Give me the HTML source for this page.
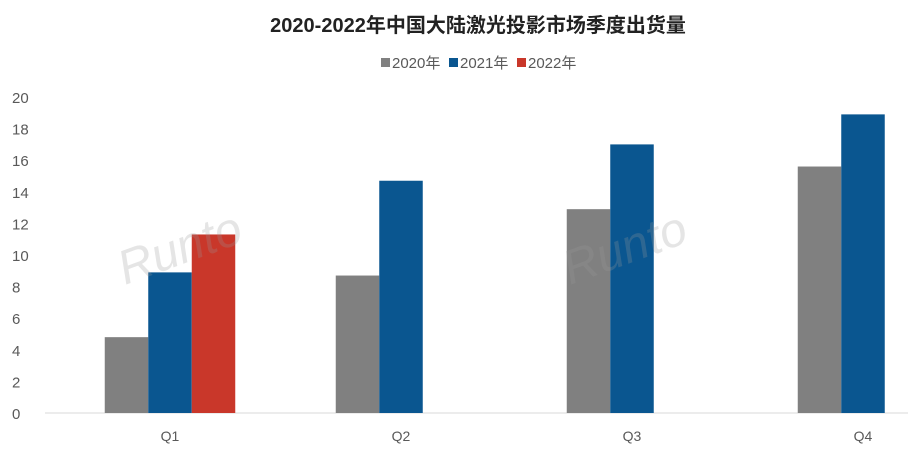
<!DOCTYPE html>
<html><head><meta charset="utf-8"><style>
body{margin:0;background:#fff;width:908px;height:457px;overflow:hidden;font-family:"Liberation Sans","Noto Sans CJK SC",sans-serif}
</style></head><body>
<svg id="c" width="908" height="457">
<text x="478" y="32" text-anchor="middle" font-size="20" font-weight="bold" fill="#222" font-family="Liberation Sans,Noto Sans CJK SC,sans-serif">2020-2022年中国大陆激光投影市场季度出货量</text>
<g font-size="15" fill="#595959">
<rect x="381" y="58" width="9" height="9" fill="#808080"/><text x="392" y="68">2020年</text>
<rect x="449" y="58" width="9" height="9" fill="#0a5690"/><text x="460" y="68">2021年</text>
<rect x="517" y="58" width="9" height="9" fill="#c9372a"/><text x="528" y="68">2022年</text>
</g>
<g id="plot"></g>
<g opacity="0.25" fill="#999" font-style="italic">
<text x="125" y="285" font-size="48" transform="rotate(-20 125 285)">Runto</text>
<text x="570" y="285" font-size="48" transform="rotate(-20 570 285)">Runto</text>
</g>
</svg>
<script>
const categories=["Q1","Q2","Q3","Q4"];
const series2020=[4.8,8.7,12.9,15.6];
const series2021=[8.9,14.7,17.0,18.9];
const series2022=[11.3,null,null,null];
const yTicks=[0,2,4,6,8,10,12,14,16,18,20];
const NS="http://www.w3.org/2000/svg";
const g=document.getElementById('plot');
const y=v=>413-v*(316/20);
const xc=i=>170+i*231;
const bw=43.5;
function mk(t,a){const e=document.createElementNS(NS,t);for(const k in a)e.setAttribute(k,a[k]);g.appendChild(e);return e;}
yTicks.forEach(v=>{const t=mk('text',{x:12,y:y(v)+6,'font-size':15,fill:'#595959'});t.textContent=v;

});
const ax=mk('line',{x1:45,x2:908,y1:413,y2:413,stroke:'#d9d9d9','stroke-width':1});


const sers=[[series2020,'#808080','2020'],[series2021,'#0a5690','2021'],[series2022,'#c9372a','2022']];
categories.forEach((c,i)=>{
 const t=mk('text',{x:xc(i),y:441,'text-anchor':'middle','font-size':14,fill:'#595959'});t.textContent=c;
 
 
 sers.forEach((s,j)=>{const v=s[0][i];if(v==null)return;
  const r=mk('rect',{x:xc(i)-1.5*bw+j*bw,y:y(v),width:bw,height:413-y(v),fill:s[1]});
  
  });
});
</script>
</body></html>
